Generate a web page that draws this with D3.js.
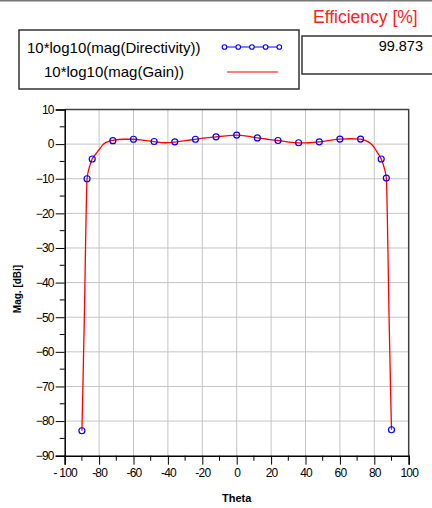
<!DOCTYPE html>
<html lang="en">
<head>
<meta charset="UTF-8">
<title>Directivity / Gain vs Theta</title>
<script src="https://d3js.org/d3.v7.min.js"></script>
<style>
    body { margin: 0; background: #fff; }
    svg { display: block; font-family: "Liberation Sans", Arial, sans-serif; }
    .tick text { font-size: 12px; letter-spacing: -0.8px; fill: #000; }
</style>
</head>
<body>
<div id="chart"></div>
<script>
    // Directivity samples (blue circles)
    const dirTheta = [-90, -87, -84, -72, -60, -48, -36, -24, -12, 0, 12, 24, 36, 48, 60, 72, 84, 87, 90];
    const dirDb = [-82.8, -10.0, -4.3, 1.0, 1.4, 0.75, 0.65, 1.4, 2.1, 2.6, 1.8, 1.05, 0.4, 0.65, 1.45, 1.45, -4.3, -9.8, -82.5];

    // Gain curve (red line)
    const gainTheta = [-90, -89.5, -89, -88.5, -88, -87.5, -87, -86, -85, -84, -82, -80, -78, -76, -74, -72, -66, -60, -54, -48, -42, -36, -30, -24, -18, -12, -6, 0, 6, 12, 18, 24, 30, 36, 42, 48, 54, 60, 66, 72, 75, 78, 80, 82, 84, 85, 86, 87, 87.5, 88, 88.5, 89, 89.5, 90];
    const gainDb = [-82.8, -72, -60, -48, -33, -19, -10.0, -7.3, -5.6, -4.3, -2.9, -1.6, -0.3, 0.5, 0.9, 1.1, 1.4, 1.4, 1.1, 0.75, 0.4, 0.6, 1.0, 1.4, 1.8, 2.1, 2.4, 2.6, 2.3, 1.8, 1.4, 1.05, 0.6, 0.35, 0.4, 0.65, 1.1, 1.45, 1.55, 1.45, 1.0, 0.1, -1.0, -2.6, -4.3, -5.6, -7.3, -9.8, -19, -33, -48, -60, -72, -82.5];

    const xTicks = [-100, -80, -60, -40, -20, 0, 20, 40, 60, 80, 100];
    const yTicks = [10, 0, -10, -20, -30, -40, -50, -60, -70, -80, -90];
    const legendLabels = ["10*log10(mag(Directivity))", "10*log10(mag(Gain))"];
    const efficiency = "99.873";

    const W = 432, H = 508;
    const svg = d3.select("#chart").append("svg").attr("width", W).attr("height", H);

    // top strip line
    svg.append("rect").attr("x", 0).attr("y", 0).attr("width", W).attr("height", 1.5).attr("fill", "#777");

    // plot area
    const pL = 64.7, pR = 408.7, pT = 109.5, pB = 455.7;
    const x = d3.scaleLinear().domain([-100, 100]).range([pL, pR]);
    const y = d3.scaleLinear().domain([-90, 10]).range([pB, pT]);

    // grid
    const grid = svg.append("g").attr("stroke", "#c4c4c4").attr("stroke-width", 1);
    xTicks.slice(1, -1).forEach(t => {
        grid.append("line").attr("x1", x(t)).attr("x2", x(t)).attr("y1", pT).attr("y2", pB);
    });
    yTicks.slice(1, -1).forEach(t => {
        grid.append("line").attr("x1", pL).attr("x2", pR).attr("y1", y(t)).attr("y2", y(t));
    });

    // frame top / right
    svg.append("path")
        .attr("d", `M${pL},${pT}H${pR}V${pB}`)
        .attr("fill", "none").attr("stroke", "#404040").attr("stroke-width", 1.5);

    // minor ticks
    const minorX = d3.range(-90, 100, 20);
    const minorY = d3.range(-85, 10, 10);
    svg.append("g").selectAll("line").data(minorX).join("line")
        .attr("x1", d => x(d)).attr("x2", d => x(d))
        .attr("y1", pB).attr("y2", pB + 5).attr("stroke", "#000");
    svg.append("g").selectAll("line").data(minorY).join("line")
        .attr("x1", pL - 5).attr("x2", pL)
        .attr("y1", d => y(d)).attr("y2", d => y(d)).attr("stroke", "#000");

    // axes
    const xAxis = svg.append("g").attr("transform", `translate(0,${pB})`)
        .call(d3.axisBottom(x).tickValues(xTicks).tickSize(9).tickPadding(4).tickFormat(d => d === -100 ? "- 100" : d));
    const yAxis = svg.append("g").attr("transform", `translate(${pL},0)`)
        .call(d3.axisLeft(y).tickValues(yTicks).tickSize(9).tickPadding(2));
    [xAxis, yAxis].forEach(a => {
        a.select(".domain").attr("stroke", "#000").attr("stroke-width", 1.5);
        a.selectAll(".tick line").attr("stroke", "#000");
        a.attr("font-family", null).attr("font-size", null);
    });

    // axis titles
    svg.append("text").attr("x", 236.7).attr("y", 502).attr("text-anchor", "middle")
        .attr("font-size", 11).attr("font-weight", "bold").text("Theta");
    svg.append("text").attr("transform", "translate(21,289) rotate(-90)").attr("text-anchor", "middle")
        .attr("font-size", 10).attr("font-weight", "bold").text("Mag. [dBi]");

    // gain line
    const gainData = gainTheta.map((t, i) => [t, gainDb[i]]);
    svg.append("path").datum(gainData)
        .attr("fill", "none").attr("stroke", "#ff0000").attr("stroke-width", 1.3)
        .attr("d", d3.line().x(d => x(d[0])).y(d => y(d[1])).curve(d3.curveMonotoneX));

    // directivity markers
    const dirData = dirTheta.map((t, i) => [t, dirDb[i]]);
    svg.append("g").selectAll("circle").data(dirData).join("circle")
        .attr("cx", d => x(d[0])).attr("cy", d => y(d[1])).attr("r", 3)
        .attr("fill", "none").attr("stroke", "#0000ff").attr("stroke-width", 1.2);

    // legend
    svg.append("rect").attr("x", 19).attr("y", 30).attr("width", 280).attr("height", 59)
        .attr("fill", "none").attr("stroke", "#333").attr("stroke-width", 1.5);
    svg.append("text").attr("x", 27).attr("y", 52.5).attr("font-size", 15).text(legendLabels[0]);
    svg.append("text").attr("x", 44).attr("y", 77).attr("font-size", 15).text(legendLabels[1]);
    svg.append("line").attr("x1", 223).attr("x2", 279).attr("y1", 47).attr("y2", 47)
        .attr("stroke", "#0000ff").attr("stroke-width", 1);
    svg.append("g").selectAll("circle").data(d3.range(5)).join("circle")
        .attr("cx", i => 224.5 + i * 13.7).attr("cy", 47).attr("r", 2.3)
        .attr("fill", "#fff").attr("stroke", "#0000ff").attr("stroke-width", 1.1);
    svg.append("line").attr("x1", 227).attr("x2", 278).attr("y1", 72).attr("y2", 72)
        .attr("stroke", "#ff0000").attr("stroke-width", 1.2);

    // efficiency
    svg.append("text").attr("x", 313).attr("y", 22.5).attr("font-size", 17.5).attr("fill", "#ff2020")
        .text("Efficiency [%]");
    svg.append("rect").attr("x", 302).attr("y", 36).attr("width", 140).attr("height", 38)
        .attr("fill", "none").attr("stroke", "#333").attr("stroke-width", 1.5);
    svg.append("text").attr("x", 423).attr("y", 51).attr("text-anchor", "end").attr("font-size", 14.5)
        .text(efficiency);
</script>
</body>
</html>
